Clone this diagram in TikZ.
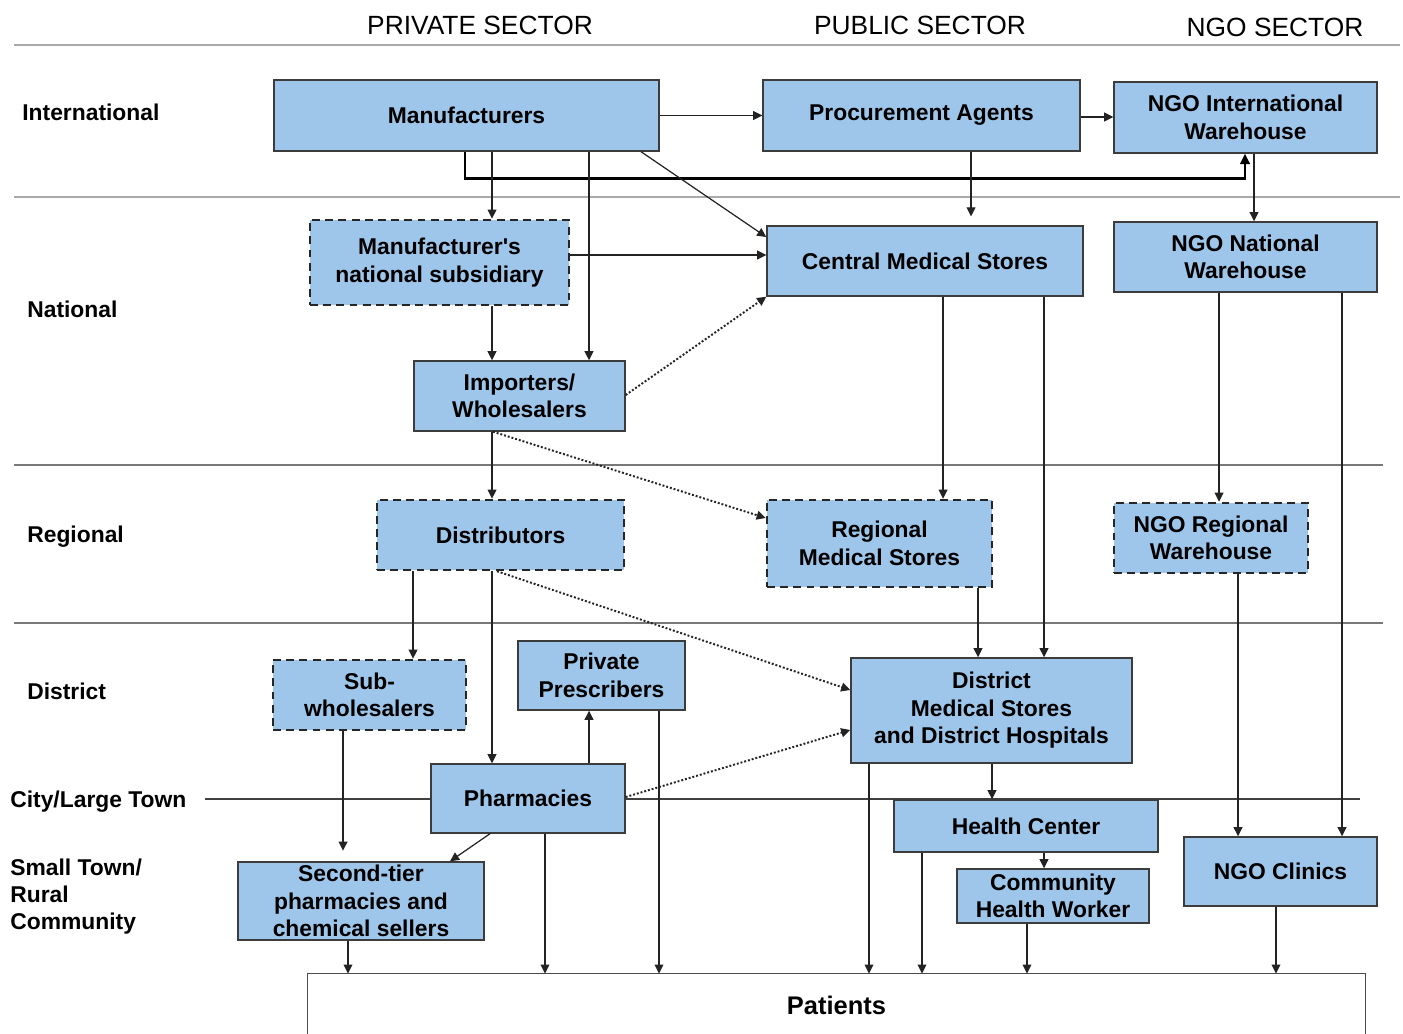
\documentclass[tikz,border=0pt]{standalone}
\usepackage{fontspec}
\setmainfont{Liberation Sans}[Ligatures=TeXOff]
\usetikzlibrary{arrows.meta}
\definecolor{boxfill}{RGB}{158,198,234}
\definecolor{boxline}{RGB}{60,60,60}
\definecolor{wire}{RGB}{35,35,35}
\definecolor{rulelight}{RGB}{170,170,170}
\definecolor{ruledark}{RGB}{120,120,120}
\begin{document}
\begin{tikzpicture}[x=0.02cm,y=-0.02cm,
  lbl/.style={font=\fontsize{13}{16}\selectfont\bfseries, inner sep=0pt, anchor=base west},
  head/.style={font=\fontsize{15}{18}\selectfont, inner sep=0pt, anchor=base},
  sz/.style 2 args={minimum width=#1*0.02cm, minimum height=#2*0.02cm},
  box/.style={draw=boxline, line width=0.8pt, fill=boxfill,
    font=\fontsize{13}{15.7}\selectfont\bfseries, align=center, inner sep=0pt},
  dbox/.style={box, draw=black!85, line width=1.4pt, dash pattern=on 4.5pt off 3pt},
  arr/.style={draw=wire, line width=0.7pt, -{Triangle[length=5.2pt,width=5pt]}},
  dotarr/.style={arr, line width=1.1pt, dash pattern=on 1.1pt off 1.1pt},
  trunk/.style={draw=black, line width=1.5pt, -{Triangle[length=6pt,width=5.5pt]}},
]
\useasboundingbox (0,0) rectangle (1403,1034);
\clip (0,0) rectangle (1403,1034);

% sector headings
\node[head] (hpriv) at (480,35) {PRIVATE SECTOR};
\node[head] (hpub) at (920,35) {PUBLIC SECTOR};
\node[head] (hngo) at (1275,37) {NGO SECTOR};

% level separators
\draw[rulelight, line width=1.7pt] (14,45) -- (1400,45);
\draw[rulelight, line width=1.7pt] (14,197) -- (1400,197);
\draw[ruledark, line width=1.3pt] (14,465) -- (1383,465);
\draw[ruledark, line width=1.3pt] (14,623) -- (1383,623);
\draw[black!75, line width=0.8pt] (205,799) -- (1360,799);

% level labels
\node[lbl] (lint) at (22,121) {International};
\node[lbl] (lnat) at (27,317) {National};
\node[lbl] (lreg) at (27,542) {Regional};
\node[lbl] (ldis) at (27,699) {District};
\node[lbl] (lcity) at (10,807) {City/Large Town};
\node[lbl] (lst1) at (10,875) {Small Town/};
\node[lbl] (lst2) at (10,902) {Rural};
\node[lbl] (lst3) at (10,929) {Community};

% supply chain nodes
\node[box, sz={385}{71}] (manu) at (466.5,115.5) {Manufacturers};
\node[box, sz={317}{71}] (proc) at (921.5,115.5) {Procurement Agents};
\node[box, sz={263}{71}] (ngoint) at (1245.5,117.5) {NGO International\\Warehouse};
\node[dbox, sz={259}{85}] (subs) at (439.5,262.5) {Manufacturer's\\national subsidiary};
\node[box, sz={316}{70}] (cms) at (925,261) {Central Medical Stores};
\node[box, sz={263}{70}] (ngonat) at (1245.5,257) {NGO National\\Warehouse};
\node[box, sz={211}{70}] (imp) at (519.5,396) {Importers/\\Wholesalers};
\node[dbox, sz={247}{70}] (dist) at (500.5,535) {Distributors};
\node[dbox, sz={225}{87}] (rms) at (879.5,543.5) {Regional\\Medical Stores};
\node[dbox, sz={194}{70}] (ngoreg) at (1211,538) {NGO Regional\\Warehouse};
\node[dbox, sz={193}{70}] (subw) at (369.5,695) {Sub-\\wholesalers};
\node[box, sz={167}{69}] (pp) at (601.5,675.5) {Private\\Prescribers};
\node[box, sz={281}{105}] (dms) at (991.5,710.5) {District\\Medical Stores\\and District Hospitals};
\node[box, sz={194}{69}] (pharm) at (528,798.5) {Pharmacies};
\node[box, sz={264}{52}] (hc) at (1026,826) {Health Center};
\node[box, sz={192}{54}] (chw) at (1053,896) {Community\\Health Worker};
\node[box, sz={193}{69}] (ngocl) at (1280.5,871.5) {NGO Clinics};
\node[box, sz={246}{78}] (sec) at (361,901) {Second-tier\\pharmacies and\\chemical sellers};
\node[inner sep=0pt, sz={1057}{62}, font=\fontsize{14.5}{17}\selectfont\bfseries] (pat) at (836.5,1005) {Patients};
\draw[draw=black!70, line width=0.8pt] (pat.south west) -- (pat.north west) -- (pat.north east) -- (pat.south east);

% international flows
\draw[arr] (manu) -- (proc);
\draw[arr] (proc.east |- 0,117) -- (ngoint.west |- 0,117);
\draw[trunk] (manu.south -| 465,0) -- ++(0,27) -| (ngoint.south -| 1245,0);
\draw[arr] (manu.south -| 492,0) -- (subs.north -| 492,0);
\draw[arr] (manu.south -| 589,0) -- (imp.north -| 589,0);
\draw[arr] (manu.south -| 641,0) -- (cms.west |- 0,237);
\draw[arr, shorten >=5pt] (proc.south -| 971,0) -- (cms.north -| 971,0);
\draw[arr] (ngoint.south -| 1254,0) -- (ngonat.north -| 1254,0);

% national flows
\draw[arr] (subs.east |- 0,255) -- (cms.west |- 0,255);
\draw[arr] (subs.south -| 492,0) -- (imp.north -| 492,0);
\draw[dotarr] (imp.east |- 0,395) -- (cms.south west);
\draw[dotarr] (imp.south -| 493,0) -- (rms.west |- 0,518);
\draw[arr] (imp.south -| 492,0) -- (dist.north -| 492,0);
\draw[arr] (cms.south -| 943,0) -- (rms.north -| 943,0);
\draw[arr] (cms.south -| 1044,0) -- (dms.north -| 1044,0);
\draw[arr] (ngonat.south -| 1219,0) -- (ngoreg.north -| 1219,0);
\draw[arr] (ngonat.south -| 1342,0) -- (ngocl.north -| 1342,0);

% regional flows
\draw[arr] (rms.south -| 978,0) -- (dms.north -| 978,0);
\draw[arr] (dist.south -| 413,0) -- (subw.north -| 413,0);
\draw[arr] (dist.south -| 492,0) -- (pharm.north -| 492,0);
\draw[dotarr] (dist.south -| 497,0) -- (dms.west |- 0,690);
\draw[arr] (ngoreg.south -| 1238,0) -- (ngocl.north -| 1238,0);

% district and community flows
\draw[arr] (pharm.north -| 589,0) -- (pp.south -| 589,0);
\draw[dotarr] (pharm.east |- 0,797) -- (dms.west |- 0,730);
\draw[arr] (pp.south -| 659,0) -- (pat.north -| 659,0);
\draw[arr, shorten >=6pt] (subw.south -| 343,0) -- (sec.north -| 343,0);
\draw[arr] (pharm.south -| 490,0) -- (sec.north -| 450,0);
\draw[arr] (pharm.south -| 545,0) -- (pat.north -| 545,0);
\draw[arr] (sec.south -| 348,0) -- (pat.north -| 348,0);
\draw[arr] (dms.south -| 992,0) -- (hc.north -| 992,0);
\draw[arr] (dms.south -| 869,0) -- (pat.north -| 869,0);
\draw[arr] (hc.south -| 1044,0) -- (chw.north -| 1044,0);
\draw[arr] (hc.south -| 922,0) -- (pat.north -| 922,0);
\draw[arr] (chw.south -| 1027,0) -- (pat.north -| 1027,0);
\draw[arr] (ngocl.south -| 1276,0) -- (pat.north -| 1276,0);
\end{tikzpicture}
\end{document}
